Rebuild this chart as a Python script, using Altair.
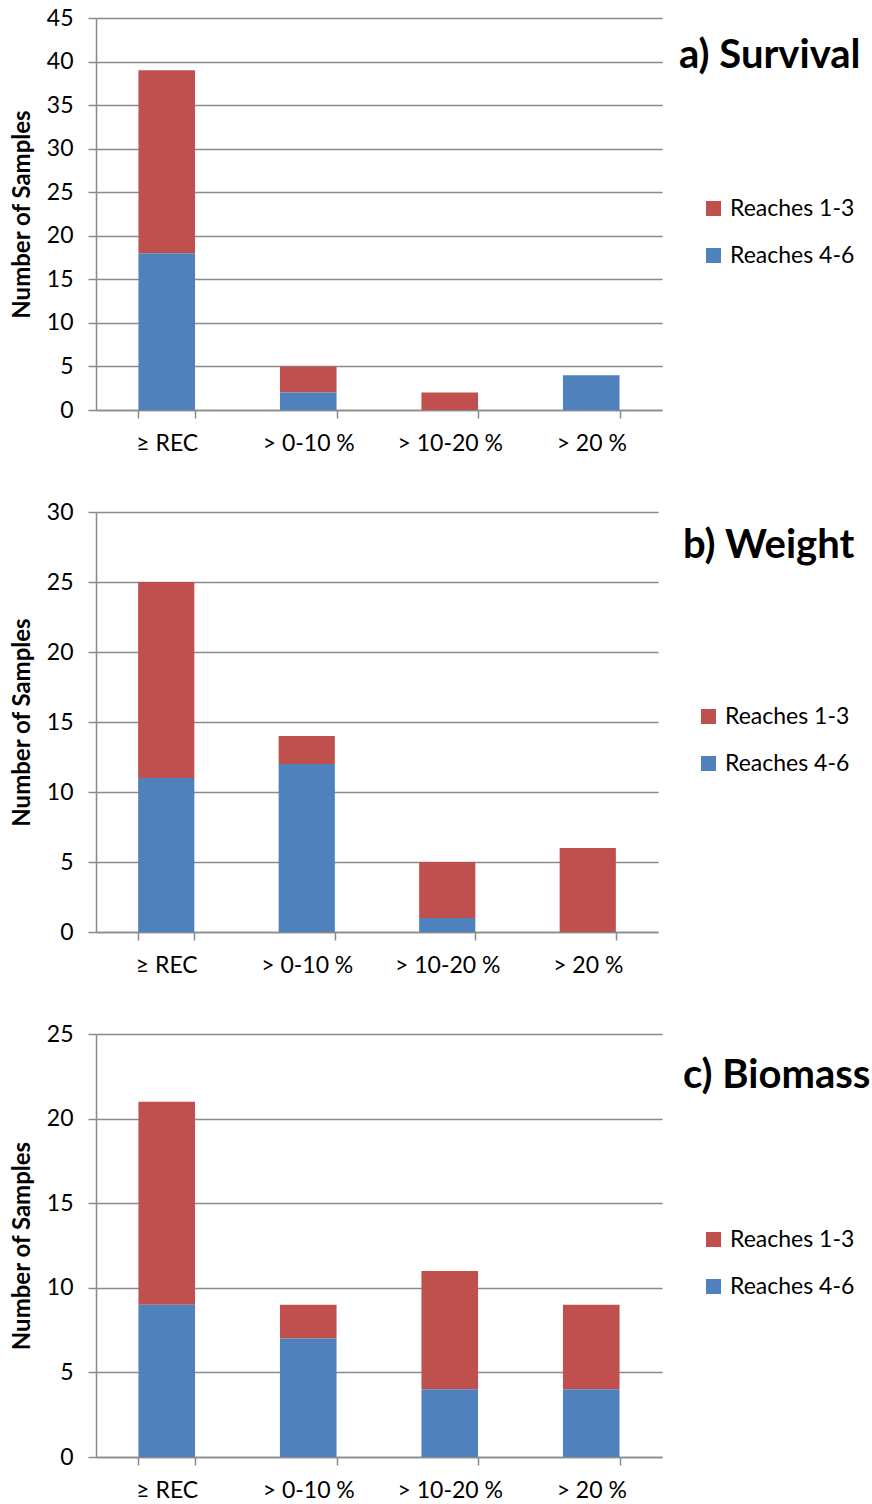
import altair as alt
import pandas as pd

categories = ["≥ REC", "> 0-10 %", "> 10-20 %", "> 20 %"]
series_names = ["Reaches 1-3", "Reaches 4-6"]
series_colors = ["#C0504D", "#4F81BD"]

survival_13 = [21, 3, 2, 0]
survival_46 = [18, 2, 0, 4]
weight_13 = [14, 2, 4, 6]
weight_46 = [11, 12, 1, 0]
biomass_13 = [12, 2, 7, 5]
biomass_46 = [9, 7, 4, 4]

panel_titles = ["a) Survival", "b) Weight", "c) Biomass"]
y_max = [45, 30, 25]

FONT = "Lato"
GRID = "#8A8A8A"


def panel(title, r13, r46, ymax, width, height, legend_x, legend_y, title_x, title_y):
    df = pd.DataFrame({
        "category": categories * 2,
        "series": [series_names[0]] * 4 + [series_names[1]] * 4,
        "value": r13 + r46,
        "order": [2] * 4 + [1] * 4,
    })
    bars = alt.Chart(df).mark_bar().encode(
        x=alt.X("category:N", sort=categories,
                scale=alt.Scale(paddingInner=0.6, paddingOuter=0.3),
                axis=alt.Axis(title=None, labelAngle=0, tickBand="extent",
                              labelPadding=14, labelFontSize=23, grid=False)),
        y=alt.Y("value:Q", stack="zero",
                scale=alt.Scale(domain=[0, ymax], nice=False),
                axis=alt.Axis(title="Number of Samples",
                              values=list(range(0, ymax + 1, 5)),
                              labelPadding=15, titlePadding=12,
                              titleFontSize=24, titleFontWeight="bold",
                              labelFontSize=23, grid=True)),
        color=alt.Color("series:N",
                        scale=alt.Scale(domain=series_names, range=series_colors),
                        legend=alt.Legend(orient="none", legendX=legend_x, legendY=legend_y,
                                          title=None, symbolType="square", symbolSize=225,
                                          symbolStrokeWidth=0, labelFontSize=23,
                                          labelFont=FONT, labelOffset=5, rowPadding=23)),
        order=alt.Order("order:Q"),
    )
    txt = alt.Chart(pd.DataFrame({"t": [title]})).mark_text(
        align="left", baseline="alphabetic", fontSize=40, fontWeight="bold", font=FONT,
        color="black"
    ).encode(text="t:N", x=alt.value(title_x), y=alt.value(title_y))
    return alt.layer(bars, txt).properties(width=width, height=height)


pa = panel(panel_titles[0], survival_13, survival_46, y_max[0], 566, 392, 606, 179, 583, 50)
pb = panel(panel_titles[1], weight_13, weight_46, y_max[1], 562, 420, 601, 193, 587, 46)
pc = panel(panel_titles[2], biomass_13, biomass_46, y_max[2], 566, 423, 606, 194, 587, 54)

chart = alt.vconcat(pa, pb, pc, spacing=46).resolve_scale(
    color="independent", y="independent", x="independent"
).resolve_legend(color="independent").properties(
    padding={"left": 10, "top": 7, "right": 0, "bottom": 0},
    background="white",
).configure_view(stroke=None).configure_axis(
    labelFont=FONT, titleFont=FONT, labelColor="black", titleColor="black",
    domainColor=GRID, tickColor=GRID, gridColor=GRID, tickSize=8,
    domainWidth=1.5, tickWidth=1.5, gridWidth=1.5,
).configure_text(font=FONT)

chart.save("out.html", embed_options={"renderer": "svg", "actions": False})
